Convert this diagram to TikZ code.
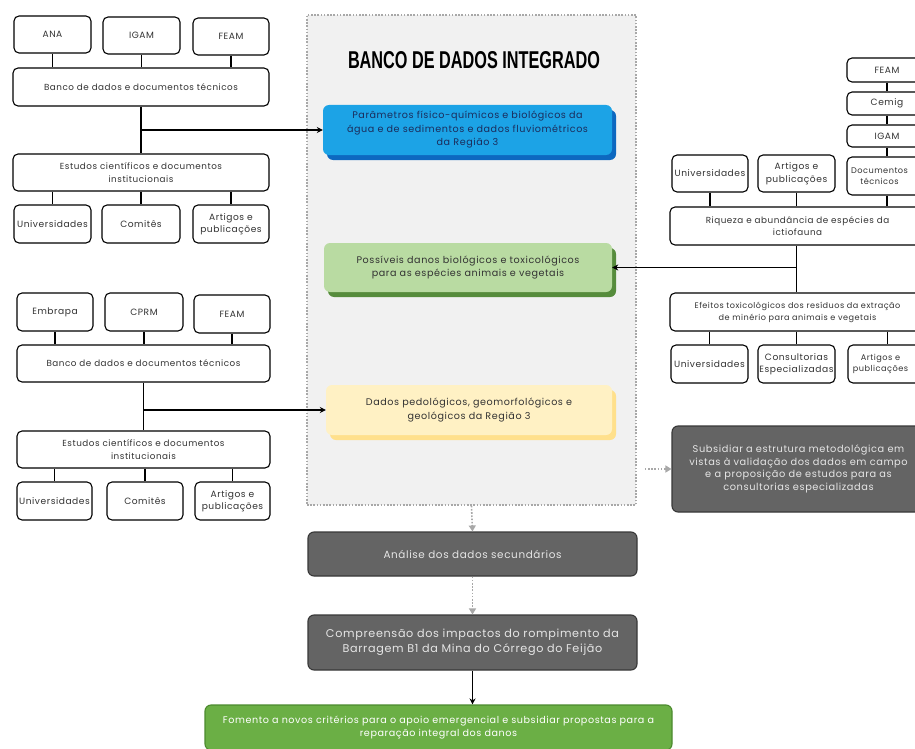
\documentclass[tikz,border=0pt]{standalone}
\usepackage{fontspec}
\usepackage{graphicx}
\setmainfont{Poppins}[LetterSpace=6.0]
\newfontfamily\titlefont{Liberation Sans}
\usetikzlibrary{shadows,arrows.meta}
\definecolor{txtgray}{HTML}{333333}
\definecolor{bggray}{HTML}{F1F1F1}
\definecolor{dotgray}{HTML}{A8A8A8}
\definecolor{cblue}{HTML}{1CA3E6}
\definecolor{cblueshadow}{HTML}{0D68C0}
\definecolor{cbluetext}{HTML}{1B2D5C}
\definecolor{cgreen}{HTML}{B9DBA2}
\definecolor{cgreenshadow}{HTML}{568C3C}
\definecolor{cyellow}{HTML}{FFF1C4}
\definecolor{cyellowshadow}{HTML}{FFE08C}
\definecolor{cdark}{HTML}{646464}
\definecolor{cdarkborder}{HTML}{383838}
\definecolor{cdarktext}{HTML}{E6E6E6}
\definecolor{cfomento}{HTML}{6BAF45}
\definecolor{cfomentoborder}{HTML}{4C8A2E}
\tikzset{
  wbox/.style={draw=black, line width=1.1pt, rounded corners=5pt, fill=white,
    inner sep=0pt, align=center, text=txtgray, font=\fontsize{9.1}{12.5}\selectfont},
  widebox/.style={wbox, font=\fontsize{8.8}{12.5}\selectfont},
  edgebox/.style={wbox, font=\fontsize{8.2}{11.5}\selectfont},
  cbox/.style={rounded corners=6pt, inner sep=0pt, align=center,
    font=\fontsize{9.6}{13.5}\selectfont},
  darkbox/.style={draw=cdarkborder, line width=1.1pt, fill=cdark, rounded corners=6pt,
    inner sep=0pt, align=center, text=cdarktext},
  conn/.style={line width=1.7pt, draw=black},
  carrow/.style={conn, -{Stealth[length=6pt,width=6pt]}},
  dotarrow/.style={draw=dotgray, line width=1.6pt, dash pattern=on 1.6pt off 1.6pt,
    -{Triangle[length=6pt,width=7pt,fill=dotgray]}},
}
\newcommand\bx[7][]{\node[#1, minimum width={(#4-#2)*1pt}, minimum height={(#5-#3)*1pt}] (#6) at ({(#2+#4)/2},{(#3+#5)/2}) {#7};}
\begin{document}
\begin{tikzpicture}[x=1pt,y=-1pt]
\useasboundingbox (0,0) rectangle (915,749);
\clip (0,0) rectangle (915,749);
% integrated database frame
\bx[draw=dotgray, line width=1.6pt, dash pattern=on 1.6pt off 1.6pt, fill=bggray]{307}{15}{636}{505}{frame}{}
\node[inner sep=0pt] (title) at (474,60) {\resizebox{252pt}{17pt}{\titlefont\bfseries BANCO DE DADOS INTEGRADO}};

% top-left group
\bx[wbox]{14}{16}{91}{53}{ana}{ANA}
\bx[wbox]{103}{17}{180}{54}{igamA}{IGAM}
\bx[wbox]{193}{18}{269}{55}{feamA}{FEAM}
\bx[widebox]{13}{68}{269}{106}{bancoA}{Banco de dados e documentos técnicos}
\bx[widebox]{13}{154}{269}{191}{estudosA}{Estudos científicos e documentos\\institucionais}
\bx[wbox]{14}{205}{91}{243}{univA}{Universidades}
\bx[wbox]{102}{205}{180}{243}{comitesA}{Comitês}
\bx[wbox]{193}{205}{269}{243}{artigosA}{Artigos e\\publicações}

% bottom-left group
\bx[wbox]{17}{293}{93}{331}{embrapa}{Embrapa}
\bx[wbox]{105}{293}{183}{331}{cprm}{CPRM}
\bx[wbox]{194}{295}{270}{333}{feamB}{FEAM}
\bx[widebox]{17}{345}{270}{382}{bancoB}{Banco de dados e documentos técnicos}
\bx[widebox]{17}{431}{270}{468}{estudosB}{Estudos científicos e documentos\\institucionais}
\bx[wbox]{17}{482}{92}{520}{univB}{Universidades}
\bx[wbox]{107}{482}{183}{520}{comitesB}{Comitês}
\bx[wbox]{195}{482}{270}{520}{artigosB}{Artigos e\\publicações}

% right group
\bx[wbox]{847}{58}{927}{82}{feamC}{FEAM}
\bx[wbox]{847}{92}{927}{115}{cemig}{Cemig}
\bx[wbox]{847}{125}{927}{147}{igamC}{IGAM}
\bx[edgebox]{847}{157}{927}{195}{docC}{Documentos\hspace*{15pt}\\técnicos\hspace*{15pt}}
\bx[wbox]{672}{155}{748}{192}{univC}{Universidades}
\bx[wbox]{758}{155}{835}{192}{artigosC}{Artigos e\\publicações}
\bx[widebox]{670}{207}{925}{245}{riqueza}{Riqueza e abundância de espécies da\\ictiofauna}
\bx[wbox, font=\fontsize{8.1}{12}\selectfont]{670}{293}{925}{331}{efeitos}{Efeitos toxicológicos dos resíduos da extração\\de minério para animais e vegetais}
\bx[wbox]{671}{345}{748}{383}{univD}{Universidades}
\bx[wbox]{758}{345}{835}{383}{consult}{Consultorias\\Especializadas}
\bx[edgebox]{848}{345}{927}{383}{artigosD}{Artigos e\hspace*{14pt}\\publicações\hspace*{14pt}}
\bx[darkbox, font=\fontsize{9.8}{12.5}\selectfont]{672}{426}{925}{512}{subsid}{Subsidiar a estrutura metodológica em\\vistas à validação dos dados em campo\\e a proposição de estudos para as\\consultorias especializadas}

% colored result boxes
\bx[cbox, fill=cblue, text=cbluetext, drop shadow={shadow xshift=4pt, shadow yshift=-5pt, fill=cblueshadow, opacity=1}]{323}{105}{612}{155}{blue}{Parâmetros físico-químicos e biológicos da\\água e de sedimentos e dados fluviométricos\\da Região 3}
\bx[cbox, fill=cgreen, text=txtgray, drop shadow={shadow xshift=4pt, shadow yshift=-5pt, fill=cgreenshadow, opacity=1}]{324}{243}{612}{292}{green}{Possíveis danos biológicos e toxicológicos\\para as espécies animais e vegetais}
\bx[cbox, fill=cyellow, text=txtgray, drop shadow={shadow xshift=4pt, shadow yshift=-5pt, fill=cyellowshadow, opacity=1}]{326}{385}{612}{435}{yellow}{Dados pedológicos, geomorfológicos e\\geológicos da Região 3}

% bottom chain
\bx[darkbox, font=\fontsize{10.4}{13}\selectfont]{308}{532}{637}{576}{analise}{Análise dos dados secundários}
\bx[darkbox, font=\fontsize{11.2}{15}\selectfont]{308}{615}{637}{670}{compre}{Compreensão dos impactos do rompimento da\\Barragem B1 da Mina do Córrego do Feijão}
\bx[draw=cfomentoborder, line width=1.1pt, fill=cfomento, rounded corners=6pt, inner sep=0pt, align=center, text=white, font=\fontsize{9.6}{13}\selectfont]{205}{705}{672}{750}{fomento}{Fomento a novos critérios para o apoio emergencial e subsidiar propostas para a\\reparação integral dos danos}

% connectors top-left
\foreach \n in {ana,igamA,feamA} \draw[conn] (\n.south) -- (\n.south |- bancoA.north);
\draw[conn] (bancoA.south) -- (estudosA.north);
\coordinate (jA) at (bancoA.south |- blue.west);
\draw[carrow] (jA) -- (blue.west);
\foreach \n in {univA,comitesA,artigosA} \draw[conn] (\n.north |- estudosA.south) -- (\n.north);

% connectors bottom-left
\foreach \n in {embrapa,cprm,feamB} \draw[conn] (\n.south) -- (\n.south |- bancoB.north);
\draw[conn] (bancoB.south) -- (estudosB.north);
\coordinate (jB) at (bancoB.south |- yellow.west);
\draw[carrow] (jB) -- (yellow.west);
\foreach \n in {univB,comitesB,artigosB} \draw[conn] (\n.north |- estudosB.south) -- (\n.north);

% connectors right
\draw[conn] (feamC.south) -- (cemig.north);
\draw[conn] (cemig.south) -- (igamC.north);
\draw[conn] (igamC.south) -- (docC.north);
\foreach \n in {univC,artigosC,docC} \draw[conn] (\n.south) -- (\n.south |- riqueza.north);
\coordinate (jC) at (artigosC.south |- green.east);
\draw[conn] (artigosC.south |- riqueza.south) -- (artigosC.south |- efeitos.north);
\draw[carrow] (jC) -- (green.east);
\foreach \n in {univD,consult,artigosD} \draw[conn] (\n.north |- efeitos.south) -- (\n.north);

% dotted flow
\draw[dotarrow, shorten <=8pt] (subsid.west -| frame.east) -- (subsid.west);
\draw[dotarrow] (frame.south) -- (analise.north);
\draw[dotarrow] (analise.south) -- (compre.north);
\draw[carrow] (compre.south) -- (compre.south |- fomento.north);
\end{tikzpicture}
\end{document}
